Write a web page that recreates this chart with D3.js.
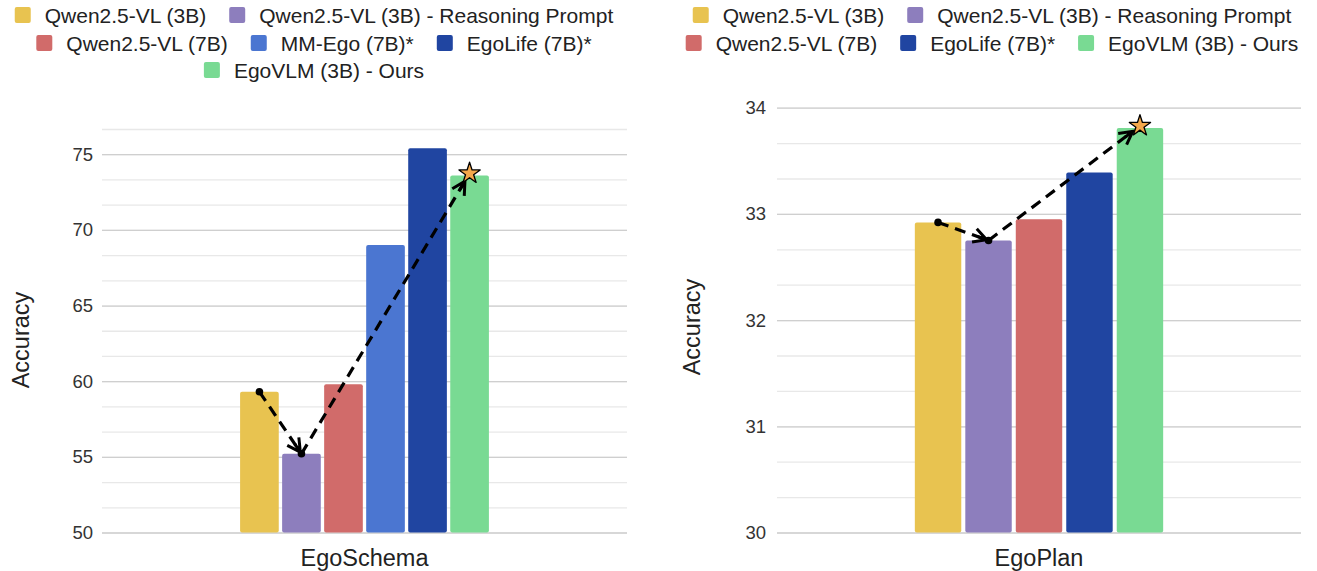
<!DOCTYPE html>
<html>
<head>
    <meta charset="utf-8">
    <style>
        body {
            margin: 0;
            background: #fff;
        }

        svg {
            font-family: 'Liberation Sans', Arial, Helvetica, sans-serif;
        }

        .grid .domain {
            display: none;
        }

        .grid-minor .tick line {
            stroke: #e8e8e8;
            stroke-width: 1.3;
        }

        .grid-major .tick line {
            stroke: #cfcfcf;
            stroke-width: 1.3;
        }

        .y .domain {
            display: none;
        }

        .y .tick text {
            font-size: 18.5px;
            fill: #333;
        }

        .axis-label {
            font-size: 23.5px;
            fill: #222;
        }

        .legend text {
            font-size: 21px;
            fill: #222;
        }
    </style>
    <title>EgoSchema / EgoPlan accuracy</title>
</head>
<body>
    <svg width="1317" height="571"></svg>

<script src="https://d3js.org/d3.v7.min.js"></script>
<script>
    // models + colours
    let modelNames = [
        "Qwen2.5-VL (3B)",
        "Qwen2.5-VL (3B) - Reasoning Prompt",
        "Qwen2.5-VL (7B)",
        "MM-Ego (7B)*",
        "EgoLife (7B)*",
        "EgoVLM (3B) - Ours"]

    let modelColors = [
        "#E8C350", // Qwen 3B
        "#8D7EBD", // Qwen 3B reasoning
        "#D16B6A", // Qwen 7B
        "#4B76D1", // MM-Ego
        "#2045A1", // EgoLife
        "#79DA93"  // EgoVLM (ours)
    ]

    // EgoSchema
    let egoSchemaModels = ["Qwen2.5-VL (3B)", "Qwen2.5-VL (3B) - Reasoning Prompt", "Qwen2.5-VL (7B)", "MM-Ego (7B)*", "EgoLife (7B)*", "EgoVLM (3B) - Ours"]
    let egoSchemaScores = [59.3, 55.2, 59.8, 69.0, 75.4, 73.6]
    let egoSchemaTicks = [50, 55, 60, 65, 70, 75]
    let egoSchemaLegendRows = [
        ["Qwen2.5-VL (3B)", "Qwen2.5-VL (3B) - Reasoning Prompt"],
        ["Qwen2.5-VL (7B)", "MM-Ego (7B)*", "EgoLife (7B)*"],
        ["EgoVLM (3B) - Ours"]]

    // EgoPlan
    let egoPlanModels = ["Qwen2.5-VL (3B)", "Qwen2.5-VL (3B) - Reasoning Prompt", "Qwen2.5-VL (7B)", "EgoLife (7B)*", "EgoVLM (3B) - Ours"]
    let egoPlanScores = [32.92, 32.75, 32.95, 33.39, 33.81]
    let egoPlanTicks = [30, 31, 32, 33, 34]
    let egoPlanLegendRows = [
        ["Qwen2.5-VL (3B)", "Qwen2.5-VL (3B) - Reasoning Prompt"],
        ["Qwen2.5-VL (7B)", "EgoLife (7B)*", "EgoVLM (3B) - Ours"]]

    let color = d3.scaleOrdinal()
        .domain(modelNames)
        .range(modelColors)

    let svg = d3.select("svg")

    // open "->" arrowhead
    svg.append("defs").append("marker")
        .attr("id", "arrow")
        .attr("viewBox", "-2 -2 20 20")
        .attr("refX", 14)
        .attr("refY", 7)
        .attr("markerWidth", 20)
        .attr("markerHeight", 20)
        .attr("markerUnits", "userSpaceOnUse")
        .attr("orient", "auto")
        .append("path")
        .attr("d", "M1,0 L14,7 L1,14 M4,7 L14,7")
        .attr("fill", "none")
        .attr("stroke", "#000")
        .attr("stroke-width", 3)
        .attr("stroke-linejoin", "miter")

    function drawChart(cfg) {
        let g = svg.append("g")

        let y = d3.scaleLinear()
            .domain(cfg.domain)
            .range([cfg.bottom, cfg.top])

        let x0 = d3.scaleBand()
            .domain([cfg.category])
            .range([cfg.left, cfg.right])
            .paddingOuter(0.555)

        let x1 = d3.scaleBand()
            .domain(cfg.models)
            .range([0, x0.bandwidth()])
            .paddingInner(0.08)

        let w = cfg.right - cfg.left

        // minor gridlines
        g.append("g")
            .attr("class", "grid grid-minor")
            .attr("transform", `translate(${cfg.left},0)`)
            .call(d3.axisLeft(y)
                .tickValues(d3.range(0, 17).map(i => cfg.domain[0] + i * cfg.minorStep).filter(v => v <= cfg.domain[1] + 1e-6))
                .tickSize(-w)
                .tickFormat(""))

        // major gridlines
        g.append("g")
            .attr("class", "grid grid-major")
            .attr("transform", `translate(${cfg.left},0)`)
            .call(d3.axisLeft(y)
                .tickValues(cfg.ticks)
                .tickSize(-w)
                .tickFormat(""))

        // tick labels
        g.append("g")
            .attr("class", "y axis")
            .attr("transform", `translate(${cfg.left},0)`)
            .call(d3.axisLeft(y)
                .tickValues(cfg.ticks)
                .tickSize(0)
                .tickPadding(cfg.tickPad)
                .tickFormat(d3.format("d")))

        // bars
        let bars = g.append("g")
            .attr("transform", `translate(${x0(cfg.category)},0)`)

        bars.selectAll("rect")
            .data(cfg.models.map((m, i) => ({ model: m, score: cfg.scores[i] })))
            .join("rect")
            .attr("x", d => x1(d.model))
            .attr("y", d => y(d.score))
            .attr("width", x1.bandwidth())
            .attr("height", d => y(cfg.domain[0]) - y(d.score))
            .attr("rx", 2)
            .attr("fill", d => color(d.model))

        // category label
        g.append("text")
            .attr("class", "axis-label")
            .attr("x", (cfg.left + cfg.right) / 2)
            .attr("y", cfg.bottom + 33)
            .attr("text-anchor", "middle")
            .text(cfg.category)

        // y axis title
        g.append("text")
            .attr("class", "axis-label")
            .attr("transform", `translate(${cfg.yTitleX},${cfg.yTitleY}) rotate(-90)`)
            .attr("text-anchor", "middle")
            .text("Accuracy")

        // arrows: base -> reasoning prompt -> ours
        let cx = i => x0(cfg.category) + x1(cfg.models[i]) + x1.bandwidth() / 2
        let last = cfg.models.length - 1
        let p0 = [cx(0), y(cfg.scores[0])]
        let p1 = [cx(1), y(cfg.scores[1])]
        let pS = [cx(last), y(cfg.scores[last]) - 2]

        let shorten = (a, b, d) => {
            let dx = b[0] - a[0], dy = b[1] - a[1]
            let len = Math.sqrt(dx * dx + dy * dy)
            return [b[0] - dx / len * d, b[1] - dy / len * d]
        }

        let arrows = g.append("g")
        let e1 = shorten(p0, p1, 2)
        let e2 = shorten(p1, pS, 9)

        arrows.append("line")
            .attr("x1", p0[0]).attr("y1", p0[1])
            .attr("x2", e1[0]).attr("y2", e1[1])
            .attr("stroke", "#000")
            .attr("stroke-width", 3.2)
            .attr("stroke-dasharray", "11,7")
            .attr("marker-end", "url(#arrow)")

        arrows.append("line")
            .attr("x1", p1[0]).attr("y1", p1[1])
            .attr("x2", e2[0]).attr("y2", e2[1])
            .attr("stroke", "#000")
            .attr("stroke-width", 3.2)
            .attr("stroke-dasharray", "11,7")
            .attr("marker-end", "url(#arrow)")

        arrows.selectAll("circle")
            .data([p0, p1])
            .join("circle")
            .attr("cx", d => d[0])
            .attr("cy", d => d[1])
            .attr("r", 3.8)
            .attr("fill", "#000")

        arrows.append("path")
            .attr("d", d3.symbol(d3.symbolStar, 140)())
            .attr("transform", `translate(${pS[0]},${pS[1]})`)
            .attr("fill", "#F4A84B")
            .attr("stroke", "#000")
            .attr("stroke-width", 1.3)
            .attr("stroke-linejoin", "round")

        // legend
        let legend = svg.append("g").attr("class", "legend")
        cfg.legendRows.forEach((row, r) => {
            let rowG = legend.append("g")
            let xpos = 0
            row.forEach(name => {
                rowG.append("rect")
                    .attr("x", xpos)
                    .attr("y", -8)
                    .attr("width", 16)
                    .attr("height", 16)
                    .attr("rx", 2)
                    .attr("fill", color(name))
                let t = rowG.append("text")
                    .attr("x", xpos + 30)
                    .attr("y", 7.5)
                    .text(name)
                xpos += 30 + t.node().getComputedTextLength() + 23
            })
            let rowW = xpos - 23
            rowG.attr("transform", `translate(${cfg.legendCenter - rowW / 2},${cfg.legendY[r]})`)
        })
    }

    drawChart({
        category: "EgoSchema",
        models: egoSchemaModels,
        scores: egoSchemaScores,
        ticks: egoSchemaTicks,
        domain: [50, 50 + 16 * 5 / 3],
        minorStep: 5 / 3,
        left: 102, right: 627, top: 129, bottom: 532.5,
        tickPad: 9,
        yTitleX: 29, yTitleY: 340,
        legendRows: egoSchemaLegendRows,
        legendCenter: 314,
        legendY: [15, 43, 70]
    })

    drawChart({
        category: "EgoPlan",
        models: egoPlanModels,
        scores: egoPlanScores,
        ticks: egoPlanTicks,
        domain: [30, 34],
        minorStep: 1 / 3,
        left: 777, right: 1301, top: 107.7, bottom: 532.5,
        tickPad: 11,
        yTitleX: 700, yTitleY: 327,
        legendRows: egoPlanLegendRows,
        legendCenter: 992,
        legendY: [15, 43]
    })
</script>
</body>
</html>
